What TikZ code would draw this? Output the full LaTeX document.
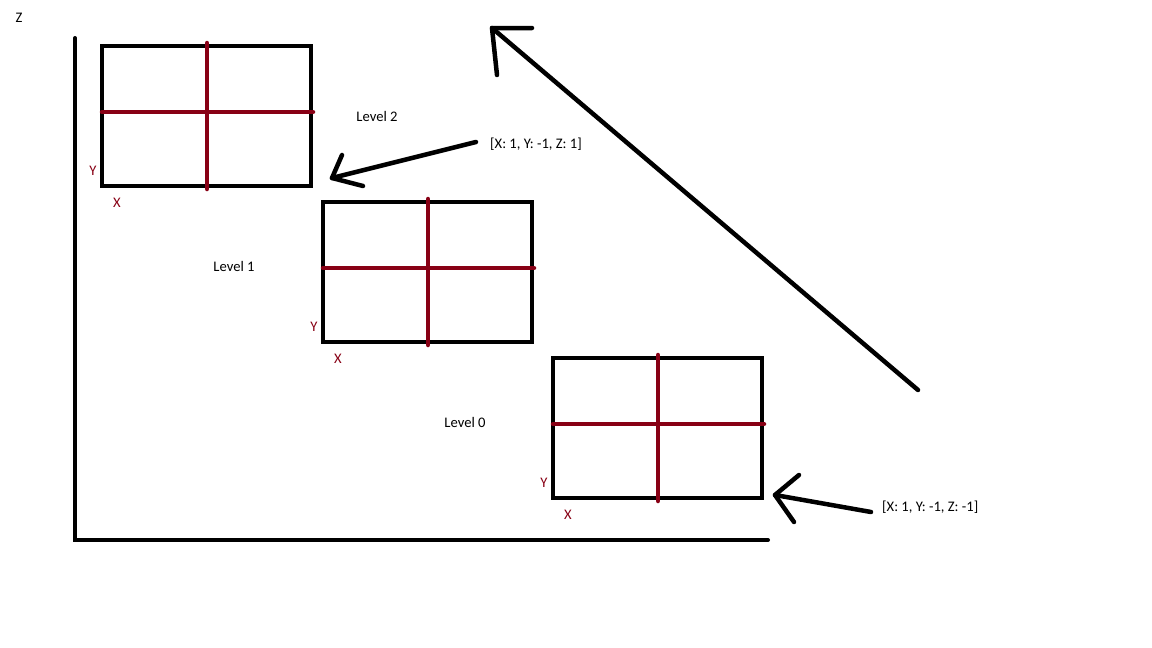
\documentclass[tikz,border=0pt]{standalone}
\usepackage{fontspec}
\setmainfont{Carlito}
\definecolor{pdred}{HTML}{880015}
\begin{document}
\begin{tikzpicture}[x=1pt,y=-1pt,
  axisline/.style={line width=4pt,line cap=round},
  boxline/.style={draw=black,line width=4.5pt},
  crossline/.style={draw=pdred,line width=4.5pt,line cap=round},
  pen/.style={line width=4.5pt,line cap=round,line join=round},
  lbl/.style={font=\fontsize{14.6}{17}\selectfont,inner sep=0pt},
  axlbl/.style={font=\fontsize{14.6}{17}\selectfont,inner sep=0pt,text=pdred}]
\useasboundingbox[fill=white] (0,0) rectangle (1152,648);
% axes
\coordinate (o) at (75,540);
\coordinate (ztop) at (75,38);
\coordinate (xend) at (768,540);
\draw[axisline] (ztop) -- (o) -- (xend);
\node[lbl] (zl) at (19,18) {Z};
% level boxes
\foreach \n/\x/\y in {b2/102/46, b1/323/202, b0/553/358}{
  \coordinate (\n nw) at (\x,\y);
  \coordinate (\n se) at (\x+209,\y+140);
  \draw[boxline] (\n nw) rectangle (\n se);
  \coordinate (\n ml) at (\x,\y+66);
  \coordinate (\n mr) at (\x+211,\y+66);
  \coordinate (\n mt) at (\x+105,\y-3);
  \coordinate (\n mb) at (\x+105,\y+143);
  \draw[crossline] (\n ml) -- (\n mr);
  \draw[crossline] (\n mt) -- (\n mb);
  \node[axlbl] (\n y) at (\x-9,\y+125) {Y};
  \node[axlbl] (\n x) at (\x+15,\y+157) {X};
}
\node[lbl] (l2) at (377,116) {Level 2};
\node[lbl] (l1) at (234,266) {Level 1};
\node[lbl] (l0) at (465,422) {Level 0};
\node[lbl,anchor=west] (c2) at (490,144) {[X: 1, Y: -1, Z: 1]};
\node[lbl,anchor=west] (c0) at (882,507) {[X: 1, Y: -1, Z: -1]};
% arrow to level 2
\coordinate (a1s) at (476,142);
\coordinate (a1t) at (332,178);
\coordinate (a1h1) at (342,155);
\coordinate (a1h2) at (363,186);
\draw[pen] (a1s) -- (a1t);
\draw[pen] (a1h1) -- (a1t) -- (a1h2);
% big arrow
\coordinate (a2s) at (918,390);
\coordinate (a2t) at (492,28);
\coordinate (a2h1) at (532,28);
\coordinate (a2h2) at (497,75);
\draw[pen] (a2s) -- (a2t);
\draw[pen] (a2h1) -- (a2t) -- (a2h2);
% arrow to level 0
\coordinate (a3s) at (871,512);
\coordinate (a3t) at (775,495);
\coordinate (a3h1) at (799,475);
\coordinate (a3h2) at (794,522);
\draw[pen] (a3s) -- (a3t);
\draw[pen] (a3h1) -- (a3t) -- (a3h2);
\end{tikzpicture}
\end{document}
